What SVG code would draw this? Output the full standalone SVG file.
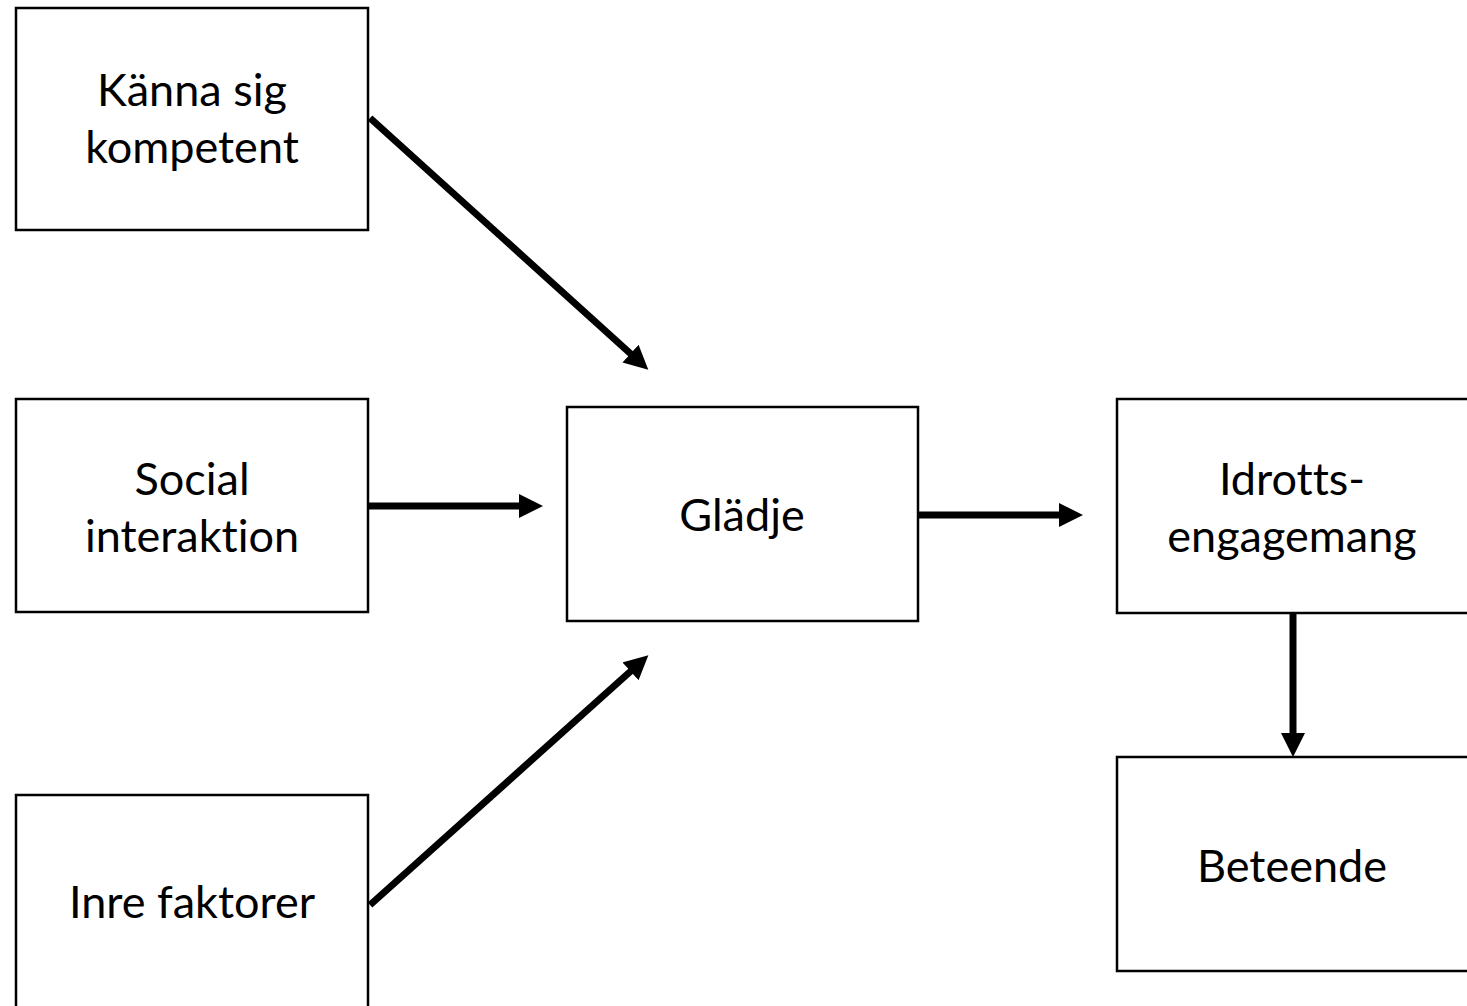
<svg xmlns="http://www.w3.org/2000/svg" width="1467" height="1006" viewBox="0 0 1467 1006">
<style>
.box{fill:#fff;stroke:#000;stroke-width:2.5}
.lbl{font-family:Lato,"Open Sans","Liberation Sans",sans-serif;font-size:45px;fill:#000;text-anchor:middle;font-variant-ligatures:none;font-feature-settings:"liga" 0,"clig" 0}
.conn{stroke:#000;stroke-width:7;fill:none;marker-end:url(#ah)}
</style>
<defs>
<marker id="ah" markerUnits="userSpaceOnUse" markerWidth="24" markerHeight="24" viewBox="0 0 24 24" refX="2" refY="12" orient="auto">
<path d="M0,0 L24,12 L0,24 Z" fill="#000"/>
</marker>
</defs>
<rect width="1467" height="1006" fill="#fff"/>
<g id="n-kompetent">
<rect class="box" x="16" y="8" width="352" height="222"/>
<text class="lbl" x="192" y="106">Känna sig</text>
<text class="lbl" x="192" y="163">kompetent</text>
</g>
<g id="n-social">
<rect class="box" x="16" y="399" width="352" height="213"/>
<text class="lbl" x="192" y="495">Social</text>
<text class="lbl" x="192" y="552">interaktion</text>
</g>
<g id="n-inre">
<rect class="box" x="16" y="795" width="352" height="220"/>
<text class="lbl" x="192" y="918">Inre faktorer</text>
</g>
<g id="n-gladje">
<rect class="box" x="567" y="407" width="351" height="214"/>
<text class="lbl" x="742" y="531">Glädje</text>
</g>
<g id="n-idrott">
<rect class="box" x="1117" y="399" width="360" height="214"/>
<text class="lbl" x="1292" y="495">Idrotts-</text>
<text class="lbl" x="1292" y="552">engagemang</text>
</g>
<g id="n-beteende">
<rect class="box" x="1117" y="757" width="360" height="214"/>
<text class="lbl" x="1292" y="882">Beteende</text>
</g>
<g id="connectors">
<line class="conn" x1="370" y1="118" x2="632" y2="355"/>
<line class="conn" x1="369" y1="506" x2="521" y2="506"/>
<line class="conn" x1="370" y1="905" x2="632" y2="670"/>
<line class="conn" x1="919" y1="515" x2="1061" y2="515"/>
<line class="conn" x1="1293" y1="614" x2="1293" y2="735"/>
</g>
</svg>
